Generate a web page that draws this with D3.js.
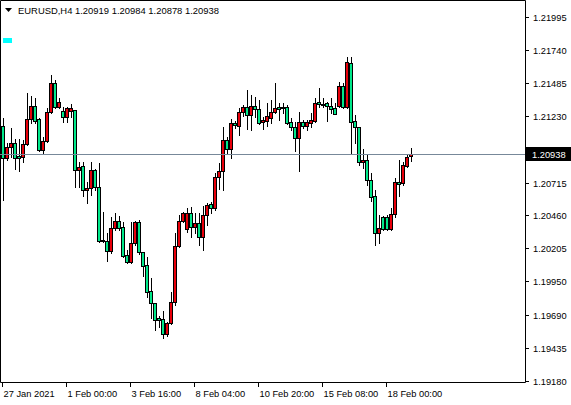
<!DOCTYPE html>
<html><head><meta charset="utf-8">
<script src="https://cdn.jsdelivr.net/npm/d3@7"></script>
<style>body{margin:0;background:#fff}svg{display:block}text{font-family:"Liberation Sans",Arial,sans-serif;font-size:9.3px}</style>
</head><body><svg id="c" width="571" height="405"></svg>
<script>
const symbolTitle = "EURUSD,H4  1.20919 1.20984 1.20878 1.20938";
const lastPrice = 1.20938;
const priceTicks = [1.21995,1.21740,1.21485,1.21230,1.20975,1.20715,1.20460,1.20205,1.19950,1.19690,1.19435,1.19180];
const timeTickIndex = [0,16,32,48,64,80,96];
const timeTickLabels = ["27 Jan 2021","1 Feb 00:00","3 Feb 16:00","8 Feb 04:00","10 Feb 20:00","15 Feb 08:00","18 Feb 00:00"];
const opens = [1.21153,1.20905,1.20990,1.21021,1.20920,1.20913,1.21013,1.21207,1.21307,1.21207,1.20967,1.21037,1.21261,1.21485,1.21299,1.21269,1.21222,1.21269,1.21276,1.20812,1.20843,1.20658,1.20673,1.20812,1.20681,1.20271,1.20263,1.20186,1.20364,1.20418,1.20371,1.20155,1.20101,1.20248,1.20410,1.20178,1.20077,1.19876,1.19784,1.19668,1.19660,1.19544,1.19629,1.19791,1.20224,1.20418,1.20356,1.20480,1.20371,1.20402,1.20294,1.20464,1.20549,1.20518,1.20758,1.20804,1.21044,1.20975,1.21176,1.21153,1.21261,1.21299,1.21238,1.21307,1.21284,1.21183,1.21191,1.21214,1.21261,1.21299,1.21299,1.21299,1.21183,1.21145,1.21060,1.21183,1.21153,1.21176,1.21191,1.21338,1.21323,1.21330,1.21307,1.21292,1.21307,1.21462,1.21299,1.21640,1.21191,1.21145,1.20874,1.20890,1.20735,1.20611,1.20325,1.20449,1.20449,1.20356,1.20472,1.20719,1.20712,1.20843,1.20919];
const highs = [1.21214,1.21021,1.21137,1.21052,1.21052,1.21044,1.21408,1.21385,1.21369,1.21214,1.21067,1.21292,1.21547,1.21508,1.21369,1.21299,1.21299,1.21323,1.21276,1.20874,1.20874,1.20719,1.20874,1.20820,1.20866,1.20487,1.20325,1.20449,1.20480,1.20456,1.20410,1.20193,1.20410,1.20418,1.20426,1.20178,1.20139,1.19977,1.19784,1.19683,1.19722,1.19637,1.19869,1.20325,1.20464,1.20487,1.20518,1.20526,1.20480,1.20480,1.20534,1.20557,1.20565,1.20789,1.20866,1.21145,1.21067,1.21207,1.21191,1.21292,1.21315,1.21431,1.21392,1.21377,1.21354,1.21222,1.21330,1.21354,1.21485,1.21330,1.21330,1.21315,1.21214,1.21183,1.21261,1.21199,1.21199,1.21253,1.21369,1.21446,1.21369,1.21338,1.21369,1.21330,1.21493,1.21485,1.21686,1.21686,1.21238,1.21145,1.20975,1.20928,1.20789,1.20658,1.20464,1.20456,1.20464,1.20518,1.20750,1.20890,1.20874,1.20928,1.20984];
const lows = [1.20580,1.20890,1.20913,1.20820,1.20804,1.20874,1.21006,1.21176,1.21176,1.20959,1.20936,1.21029,1.21253,1.21292,1.21292,1.21183,1.21183,1.21222,1.20681,1.20681,1.20611,1.20557,1.20619,1.20658,1.20255,1.20255,1.20108,1.20170,1.20348,1.20348,1.20139,1.20093,1.20093,1.20232,1.20163,1.19992,1.19830,1.19668,1.19575,1.19598,1.19513,1.19528,1.19621,1.19768,1.20217,1.20410,1.20333,1.20294,1.20325,1.20232,1.20193,1.20387,1.20480,1.20503,1.20665,1.20658,1.20936,1.20905,1.21137,1.21083,1.21230,1.21129,1.21122,1.21222,1.21168,1.21129,1.21153,1.21176,1.21253,1.21199,1.21253,1.21168,1.21122,1.20959,1.20804,1.21137,1.21122,1.21145,1.21183,1.21299,1.21299,1.21191,1.21253,1.21245,1.21299,1.21292,1.21292,1.20936,1.21021,1.20851,1.20828,1.20696,1.20572,1.20232,1.20248,1.20348,1.20348,1.20348,1.20449,1.20611,1.20696,1.20835,1.20878];
const closes = [1.20905,1.20990,1.21021,1.20905,1.20905,1.21013,1.21207,1.21307,1.21191,1.20967,1.21037,1.21261,1.21485,1.21299,1.21338,1.21222,1.21292,1.21292,1.20812,1.20835,1.20658,1.20673,1.20812,1.20681,1.20263,1.20263,1.20186,1.20364,1.20418,1.20364,1.20147,1.20101,1.20248,1.20410,1.20178,1.20070,1.19869,1.19784,1.19652,1.19652,1.19544,1.19629,1.19791,1.20224,1.20418,1.20480,1.20480,1.20371,1.20402,1.20294,1.20464,1.20542,1.20518,1.20758,1.20804,1.21044,1.20975,1.21176,1.21160,1.21261,1.21299,1.21238,1.21307,1.21284,1.21176,1.21199,1.21230,1.21261,1.21292,1.21284,1.21292,1.21176,1.21145,1.21060,1.21183,1.21153,1.21183,1.21199,1.21330,1.21323,1.21315,1.21307,1.21284,1.21245,1.21462,1.21299,1.21647,1.21183,1.21145,1.20874,1.20890,1.20735,1.20603,1.20325,1.20364,1.20356,1.20356,1.20472,1.20719,1.20704,1.20851,1.20913,1.20938];

const svg = d3.select("#c");
const y = d3.scaleLinear().domain([1.19180,1.21995]).range([381,17]);
const x = d3.scaleLinear().domain([0,16]).range([3,67]);
const plotR = 525, plotB = 382;

svg.append("path").attr("d",`M0.5,0.5H${plotR+0.5}V${plotB+0.5}H0.5Z`).attr("fill","none").attr("stroke","#000");

const data = opens.map((o,i)=>({i,o,h:highs[i],l:lows[i],c:closes[i]}));
const g = svg.append("g").attr("shape-rendering","crispEdges");
g.selectAll("line.w").data(data).join("line")
  .attr("x1",d=>Math.round(x(d.i))+0.5).attr("x2",d=>Math.round(x(d.i))+0.5)
  .attr("y1",d=>Math.round(y(d.h))).attr("y2",d=>Math.round(y(d.l))+1).attr("stroke","#000");
g.selectAll("rect.b").data(data).join("rect")
  .attr("x",d=>Math.round(x(d.i))-1.5+0.5-0.5).attr("width",3)
  .attr("y",d=>Math.round(y(Math.max(d.o,d.c)))+0.5)
  .attr("height",d=>Math.max(1,Math.round(y(Math.min(d.o,d.c)))-Math.round(y(Math.max(d.o,d.c)))))
  .attr("fill",d=>d.c>=d.o?"#e8000b":"#00e88a").attr("stroke","#000");

const ly = Math.round(y(lastPrice))+0.5;
svg.append("line").attr("x1",0).attr("x2",plotR).attr("y1",ly).attr("y2",ly).attr("stroke","#778899");

const pa = svg.append("g");
priceTicks.forEach(p=>{
  const yy = Math.round(y(p))+0.5;
  pa.append("line").attr("x1",plotR).attr("x2",plotR+4).attr("y1",yy).attr("y2",yy).attr("stroke","#000");
  pa.append("text").attr("x",533).attr("y",yy+3.5).text(p.toFixed(5));
});
svg.append("rect").attr("x",plotR+1).attr("y",ly-7.5).attr("width",45).attr("height",14).attr("fill","#000");
svg.append("text").attr("x",532).attr("y",ly+3.5).attr("fill","#fff").text(lastPrice.toFixed(5));

timeTickIndex.forEach((t,k)=>{
  const xx = Math.round(x(t))-0.5;
  svg.append("line").attr("x1",xx).attr("x2",xx).attr("y1",plotB).attr("y2",plotB+5).attr("stroke","#000");
  svg.append("text").attr("x",xx+1).attr("y",397).text(timeTickLabels[k]);
});

svg.append("path").attr("d","M5,8H12L8.5,12Z").attr("fill","#000");
svg.append("text").attr("x",18).attr("y",14).attr("textLength",201).attr("lengthAdjust","spacingAndGlyphs").text(symbolTitle);
svg.append("rect").attr("x",3).attr("y",38).attr("width",9).attr("height",5).attr("fill","#00ffff");
</script></body></html>
